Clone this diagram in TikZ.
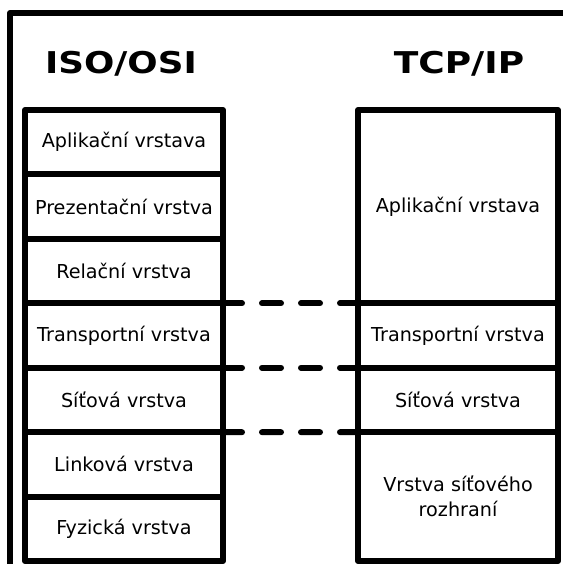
\documentclass[tikz,border=0pt]{standalone}
\usepackage{fontspec}
\setmainfont{DejaVu Sans}
\begin{document}
\begin{tikzpicture}[x=1pt,y=-1pt,line width=6pt,line join=round,
  layer/.style={draw,black,rectangle,inner sep=0pt,outer sep=0pt,minimum width=198pt,align=center,font=\fontsize{19.2}{25}\selectfont},
  title/.style={font=\fontsize{30}{36}\selectfont\bfseries},
  dashline/.style={dash pattern=on 19pt off 20pt,line cap=round},
]
 \useasboundingbox (0,0) rectangle (563,564);

 \draw [black] (10,564) -- (10,13) -- (563,13);

 \node (title_osi) at (121,64) [title] {\scalebox{1.19}[1]{ISO/OSI}};
 \node (title_tcp) at (459,64) [title] {\scalebox{1.2}[1]{TCP/IP}};

 \node (osi_0) at (124,142.2) [layer,minimum height=64.43pt] {Aplikační vrstava};
 \node (osi_1) at (124,206.6) [layer,minimum height=64.43pt] {Prezentační vrstva};
 \node (osi_2) at (124,271.1) [layer,minimum height=64.43pt] {Relační vrstva};
 \node (osi_3) at (124,335.5) [layer,minimum height=64.43pt] {Transportní vrstva};
 \node (osi_4) at (124,399.9) [layer,minimum height=64.43pt] {Síťová vrstva};
 \node (osi_5) at (124,464.4) [layer,minimum height=64.43pt] {Linková vrstva};
 \node (osi_6) at (124,528.8) [layer,minimum height=64.43pt] {Fyzická vrstva};

 \node (tcp_0) at (458,206.6) [layer,minimum width=200pt,minimum height=193.3pt] {Aplikační vrstava};
 \node (tcp_1) at (458,335.5) [layer,minimum width=200pt,minimum height=64.43pt] {Transportní vrstva};
 \node (tcp_2) at (458,399.9) [layer,minimum width=200pt,minimum height=64.43pt] {Síťová vrstva};
 \node (tcp_3) at (458,496.6) [layer,minimum width=200pt,minimum height=128.9pt] {Vrstva síťového\\rozhraní};

  \draw [black,dashline] (osi_3.north east) edge (tcp_1.north west);
  \draw [black,dashline] (osi_4.north east) edge (tcp_2.north west);
  \draw [black,dashline] (osi_5.north east) edge (tcp_3.north west);

\end{tikzpicture}
\end{document}
